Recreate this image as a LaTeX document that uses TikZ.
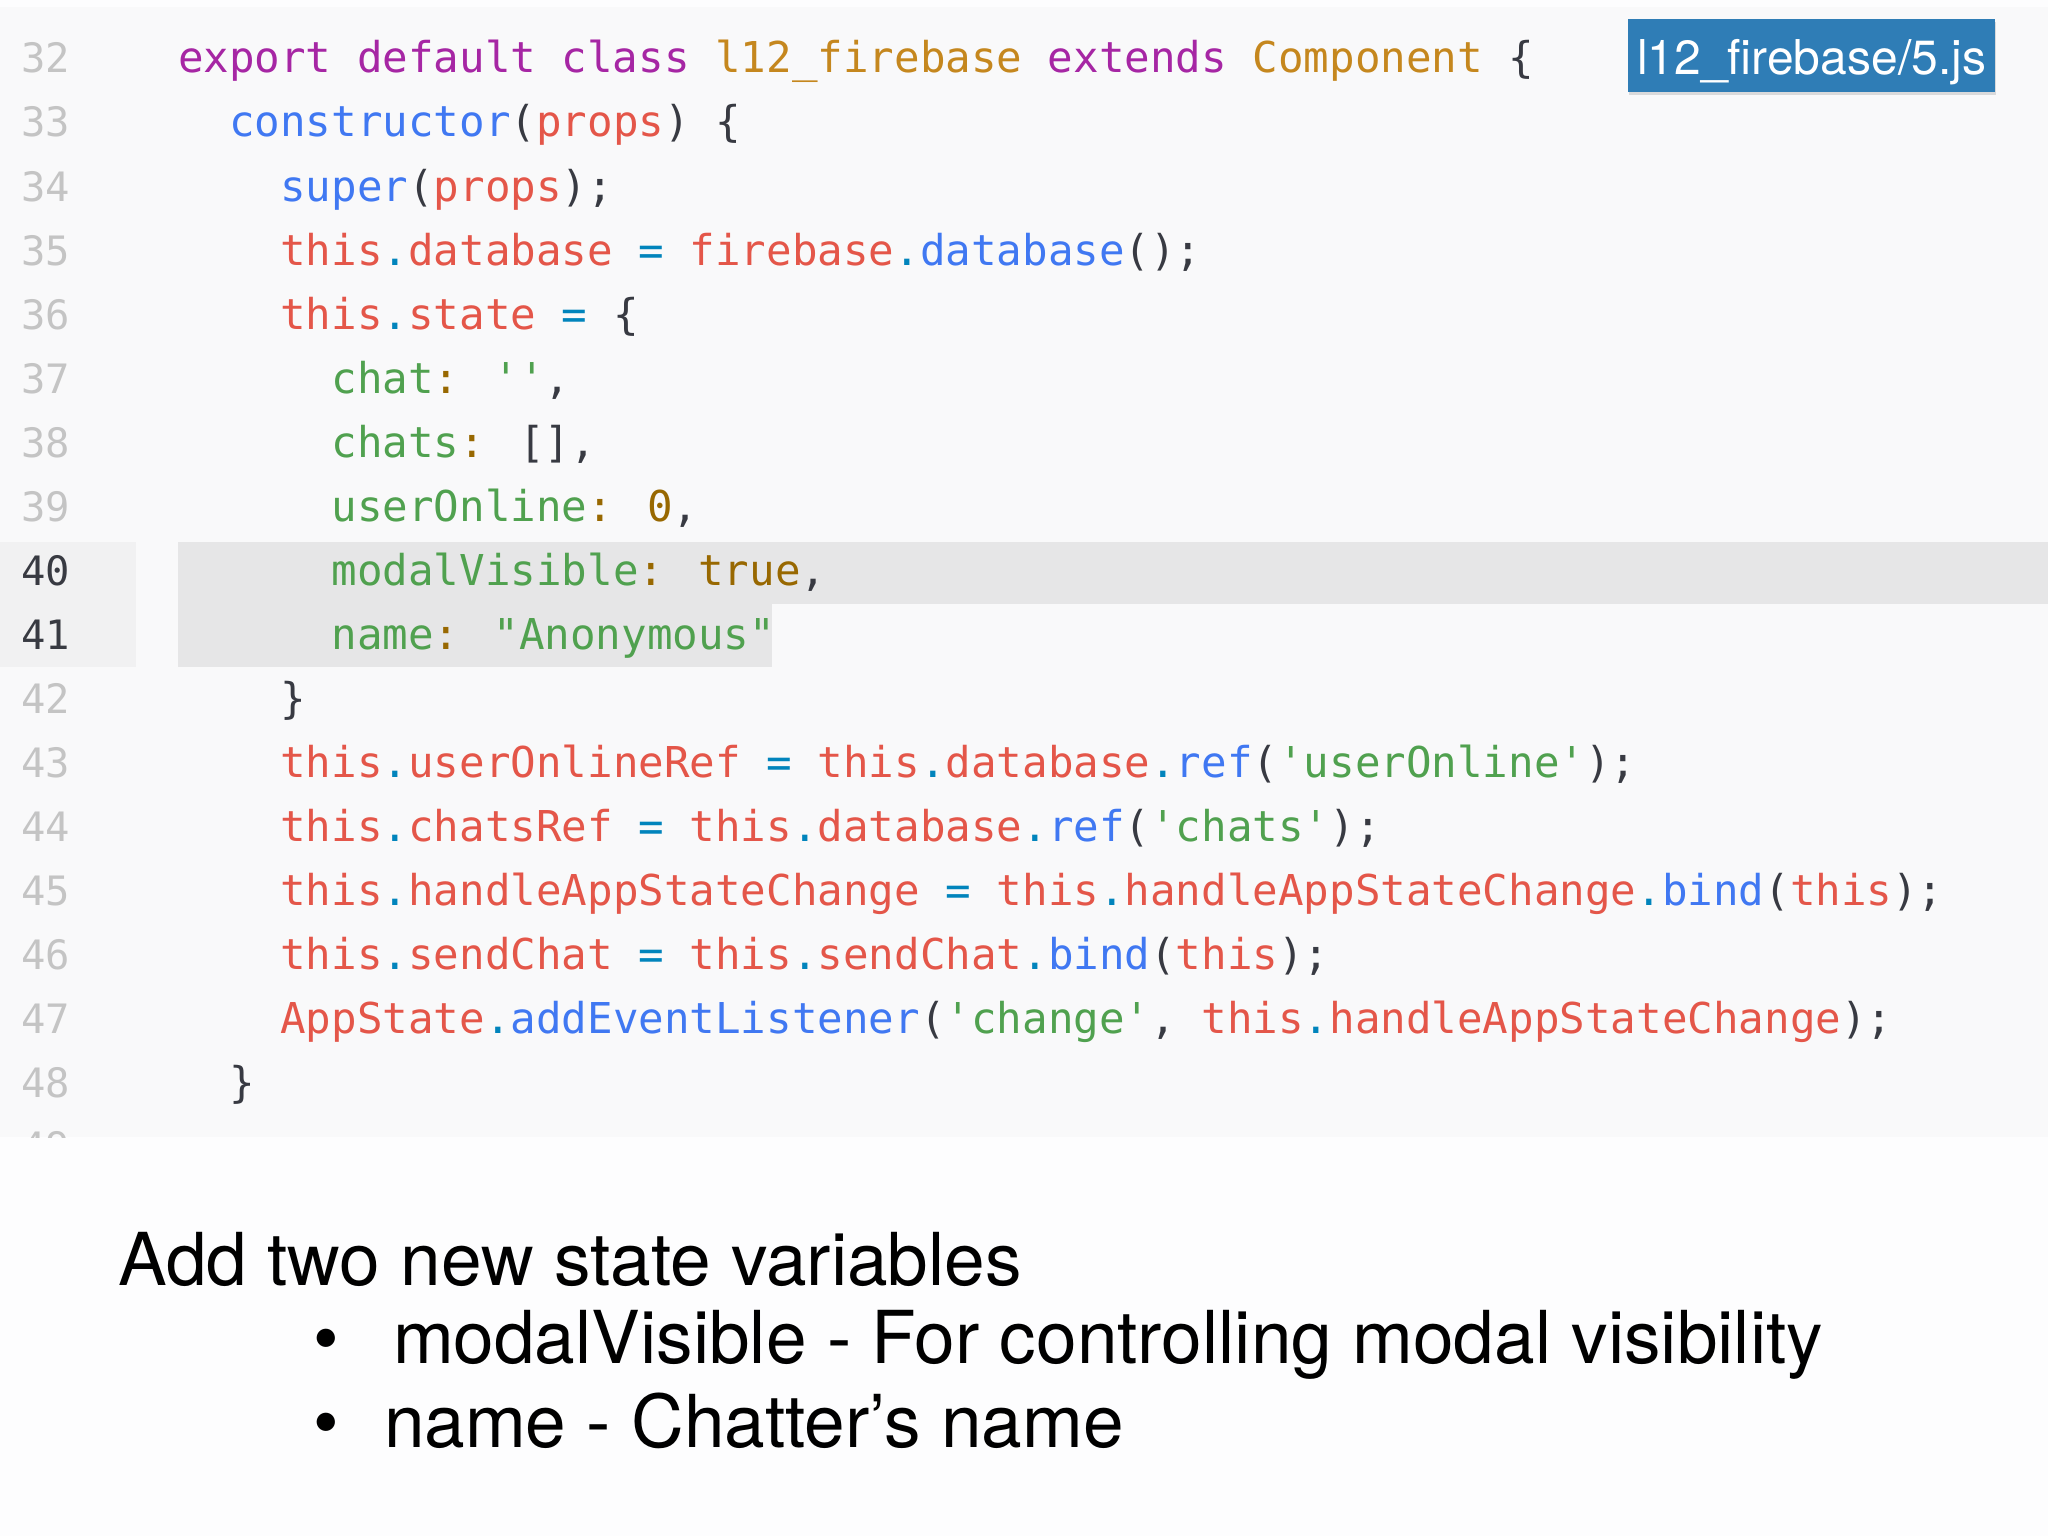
\documentclass[tikz,border=0pt]{standalone}
\usepackage{fontspec}
\setmainfont{TeX Gyre Heros}
\newfontfamily\codefam{DejaVu Sans Mono}
\usetikzlibrary{shadows}
\definecolor{cpur}{HTML}{A626A4}
\definecolor{corg}{HTML}{C5871E}
\definecolor{cblu}{HTML}{4078F2}
\definecolor{cred}{HTML}{E45649}
\definecolor{ccya}{HTML}{0184BC}
\definecolor{cgrn}{HTML}{50A14F}
\definecolor{cbrn}{HTML}{986801}
\definecolor{cdrk}{HTML}{383A42}
\definecolor{cnum}{HTML}{C4C4C4}
\definecolor{panelbg}{HTML}{F9F9FA}
\definecolor{slidebg}{HTML}{FDFDFE}
\definecolor{bandbg}{HTML}{E6E6E7}
\definecolor{gutterhl}{HTML}{F1F1F2}
\definecolor{labelbg}{HTML}{2F7DB6}
\newcommand\Kp[1]{\textcolor{cpur}{#1}}
\newcommand\Ko[1]{\textcolor{corg}{#1}}
\newcommand\Kb[1]{\textcolor{cblu}{#1}}
\newcommand\Kr[1]{\textcolor{cred}{#1}}
\newcommand\Kc[1]{\textcolor{ccya}{#1}}
\newcommand\Kg[1]{\textcolor{cgrn}{#1}}
\newcommand\Kn[1]{\textcolor{cbrn}{#1}}
\newcommand\sq{\char"0027\relax}
\newcommand\dq{\char"0022\relax}
\newcommand\codefont{\codefam\fontsize{42.5}{50}\selectfont}
\newcommand\numfont{\codefam\fontsize{40.5}{48}\selectfont}
\newcommand\slidefont{\fontsize{73}{84}\selectfont}
\tikzset{
  codeline/.style={anchor=base west, inner sep=0pt, outer sep=0pt, font=\codefont, text=cdrk},
  lnum/.style={anchor=base west, inner sep=0pt, outer sep=0pt, font=\numfont, text=cnum},
  lnumhl/.style={lnum, text=cdrk},
  slidetext/.style={anchor=base west, inner sep=0pt, outer sep=0pt, font=\slidefont, text=black},
  labelbox/.style={fill=labelbg, draw=none, drop shadow={opacity=0.25, shadow xshift=1pt, shadow yshift=-3pt}},
}
\begin{document}
\begin{tikzpicture}[x=1pt,y=-1pt]
\useasboundingbox (0,0) rectangle (2048,1536);
\fill[slidebg] (0,0) rectangle (2048,1536);
\begin{scope}
\clip (0,7) rectangle (2048,1137);
\fill[panelbg] (0,7) rectangle (2048,1137);
% highlight of lines 40-41
\fill[gutterhl] (0,542) rectangle (136,667);
\fill[bandbg] (178,542) rectangle (2048,604);
\fill[bandbg] (178,604) rectangle (772,667);
% line numbers
\foreach \n [evaluate=\n as \yy using {73+64*(\n-32)}] in {32,...,39,42,43,...,49}{
  \node[lnum] (ln\n) at (21,\yy) {\n};
}
\node[lnumhl] (ln40) at (21,585) {40};
\node[lnumhl] (ln41) at (21,649) {41};
\end{scope}
% code lines: column width 25.6, column 0 at x=178
\node[codeline] (c32) at (178,73) {\Kp{export default class} \Ko{l12\_firebase} \Kp{extends} \Ko{Component} \{};
\node[codeline] (c33) at (229.2,137) {\Kb{constructor}(\Kr{props}) \{};
\node[codeline] (c34) at (280.4,201) {\Kb{super}(\Kr{props});};
\node[codeline] (c35) at (280.4,265) {\Kr{this}\Kc{.}\Kr{database} \Kc{=} \Kr{firebase}\Kc{.}\Kb{database}();};
\node[codeline] (c36) at (280.4,329) {\Kr{this}\Kc{.}\Kr{state} \Kc{=} \{};
\node[codeline] (c37) at (331.6,393) {\Kg{chat}\Kn{:} \Kg{\sq\sq},};
\node[codeline] (c38) at (331.6,457) {\Kg{chats}\Kn{:} [],};
\node[codeline] (c39) at (331.6,521) {\Kg{userOnline}\Kn{:} \Kn{0},};
\node[codeline] (c40) at (331.6,585) {\Kg{modalVisible}\Kn{:} \Kn{true},};
\node[codeline] (c41) at (331.6,649) {\Kg{name}\Kn{:} \Kg{\dq Anonymous\dq}};
\node[codeline] (c42) at (280.4,713) {\}};
\node[codeline] (c43) at (280.4,777) {\Kr{this}\Kc{.}\Kr{userOnlineRef} \Kc{=} \Kr{this}\Kc{.}\Kr{database}\Kc{.}\Kb{ref}(\Kg{\sq userOnline\sq});};
\node[codeline] (c44) at (280.4,841) {\Kr{this}\Kc{.}\Kr{chatsRef} \Kc{=} \Kr{this}\Kc{.}\Kr{database}\Kc{.}\Kb{ref}(\Kg{\sq chats\sq});};
\node[codeline] (c45) at (280.4,905) {\Kr{this}\Kc{.}\Kr{handleAppStateChange} \Kc{=} \Kr{this}\Kc{.}\Kr{handleAppStateChange}\Kc{.}\Kb{bind}(\Kr{this});};
\node[codeline] (c46) at (280.4,969) {\Kr{this}\Kc{.}\Kr{sendChat} \Kc{=} \Kr{this}\Kc{.}\Kr{sendChat}\Kc{.}\Kb{bind}(\Kr{this});};
\node[codeline] (c47) at (280.4,1033) {\Kr{AppState}\Kc{.}\Kb{addEventListener}(\Kg{\sq change\sq}, \Kr{this}\Kc{.}\Kr{handleAppStateChange});};
\node[codeline] (c48) at (229.2,1097) {\}};
% file label
\path[labelbox] (1628,19) rectangle (1995,92);
\node[anchor=base, inner sep=0pt, font=\fontsize{48}{56}\selectfont, text=white] (label) at (1811.5,75) {l12\_firebase/5.js};
% slide text
\node[slidetext] (head) at (118,1285) {Add two new state variables};
\node[slidetext] (b1dot) at (313,1363) {•};
\node[slidetext] (b1) at (393,1363) {modalVisible - For controlling modal visibility};
\node[slidetext] (b2dot) at (313,1447) {•};
\node[slidetext] (b2) at (384,1447) {name - Chatter’s name};
\end{tikzpicture}
\end{document}
